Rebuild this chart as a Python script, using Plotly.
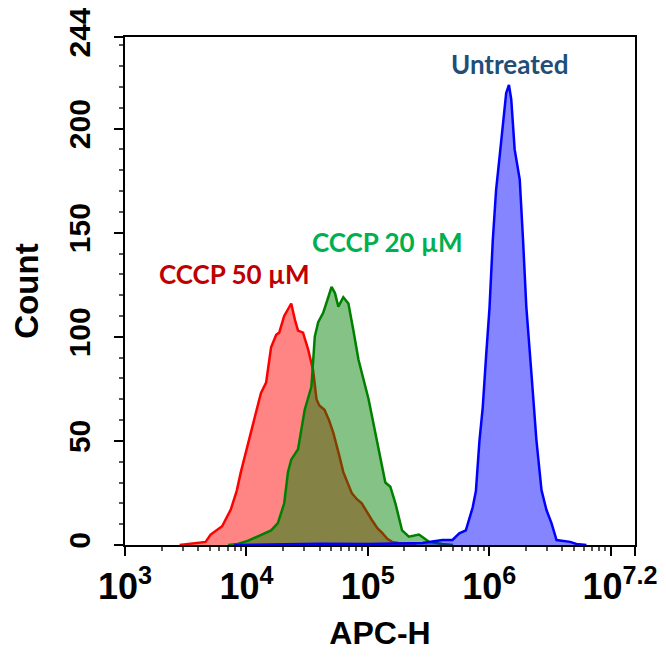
import plotly.graph_objects as go

# ---- data (APC-H given as log10 exponent, counts) ----
red_log10 = [3.45, 3.54, 3.60, 3.664, 3.705, 3.75, 3.80, 3.871, 3.92, 3.954, 4.00, 4.037, 4.08, 4.12,
             4.162, 4.203, 4.245, 4.27, 4.311, 4.34, 4.369, 4.40, 4.425, 4.466, 4.508, 4.549, 4.577,
             4.60, 4.618, 4.643, 4.68, 4.715, 4.76, 4.798, 4.867, 4.91, 4.95, 5.00, 5.033, 5.08,
             5.116, 5.16, 5.199, 5.25, 5.307, 5.40]
red_count = [0, 0.5, 1, 1.5, 5, 7, 9, 17, 26, 35, 46, 54, 64, 73,
             78, 95, 101, 102, 110, 113, 116, 108, 103, 102, 94, 84, 70,
             67, 66, 65, 60, 54, 44, 35, 25, 22, 20, 15, 12, 8,
             6, 3, 1.5, 1, 0.5, 0]

green_log10 = [3.85, 3.927, 4.01, 4.12, 4.203, 4.259, 4.311, 4.342, 4.369, 4.425, 4.48, 4.535, 4.563,
               4.591, 4.632, 4.674, 4.701, 4.729, 4.757, 4.798, 4.84, 4.881, 4.923, 5.006, 5.089,
               5.144, 5.185, 5.227, 5.282, 5.338, 5.421, 5.504, 5.614, 5.70]
green_count = [0, 0.5, 2, 5, 7, 10.5, 20, 35, 41, 46, 65, 76, 100,
               107, 111.5, 119, 124, 121, 114.5, 119, 116, 103, 89, 70, 46,
               30, 28, 20, 7, 4, 5, 1.5, 0.5, 0]

blue_log10 = [3.90, 4.2, 4.6, 5.0, 5.3, 5.448, 5.614, 5.697, 5.753, 5.807, 5.863, 5.89, 5.919, 5.946,
              5.973, 6.002, 6.029, 6.056, 6.085, 6.112, 6.139, 6.162, 6.181, 6.209, 6.251, 6.278,
              6.305, 6.347, 6.388, 6.43, 6.471, 6.513, 6.554, 6.666, 6.718, 6.80]
blue_count = [0, 0.4, 0.6, 0.5, 0.8, 1, 2.4, 2.4, 5.6, 7, 18, 26, 50, 66,
              90, 114, 146.5, 170.5, 186.5, 203, 217, 221, 214, 190, 175.5, 146.6,
              114.5, 82.5, 50.5, 26.4, 16.8, 10.4, 2.4, 1.5, 0.5, 0]

x_tick_exp = [3, 4, 5, 6, 7, 7.2]
x_tick_text = ['10<sup>3</sup>', '10<sup>4</sup>', '10<sup>5</sup>', '10<sup>6</sup>', '',
               '10<sup>7.2</sup>\u00a0\u00a0\u00a0']
y_tick_vals = [0, 50, 100, 150, 200, 244]

labels = ['CCCP 50 µM', 'CCCP 20 µM', 'Untreated']
label_pos_log10 = [3.905, 5.158, 6.17]
label_pos_count = [130.3, 145.7, 231]
label_colors = ['#C00000', '#00B050', '#1F4E79']

fig = go.Figure()

def add(xs_log, ys, line, fill):
    fig.add_trace(go.Scatter(
        x=[10 ** v for v in xs_log], y=ys, mode='lines',
        line=dict(color=line, width=2.5), fill='tozeroy', fillcolor=fill,
        showlegend=False, hoverinfo='skip'))

add(red_log10, red_count, '#FF0000', 'rgba(255,0,0,0.48)')
add(green_log10, green_count, '#008000', 'rgba(0,128,0,0.48)')
add(blue_log10, blue_count, '#0000FF', 'rgba(0,0,255,0.48)')

minor_x = [k * 10 ** d for d in range(3, 7) for k in range(2, 10)]
minor_y = [v for v in range(10, 244, 10) if v % 50 != 0]

for txt, xl, yc, col in zip(labels, label_pos_log10, label_pos_count, label_colors):
    fig.add_annotation(x=xl, y=yc, xref='x', yref='y', text=txt, showarrow=False,
                       font=dict(family='Lato', size=26, color=col, weight='bold'))

# the page body has an 8 px default margin, so the figure is 8 px smaller
fig.update_layout(
    width=658, height=651,
    margin=dict(l=117, r=31, t=29, b=114),
    plot_bgcolor='white', paper_bgcolor='white',
    xaxis=dict(
        type='log', range=[3, 7.2001], automargin=False,
        tickmode='array', tickvals=[10 ** e for e in x_tick_exp], ticktext=x_tick_text,
        ticks='outside', ticklen=9, tickwidth=2, tickcolor='black',
        ticklabeloverflow='allow',
        showline=True, linewidth=2, linecolor='black', mirror=True,
        showgrid=False, zeroline=False,
        tickfont=dict(family='Liberation Sans', size=36, color='black', weight='bold'),
        minor=dict(tickmode='array', tickvals=minor_x, ticks='outside', ticklen=4,
                   tickwidth=1.5, tickcolor='#555', showgrid=False),
        title=dict(text='APC-H', standoff=15,
                   font=dict(family='Liberation Sans', size=32, color='black', weight='bold')),
    ),
    yaxis=dict(
        range=[0, 244], automargin=False,
        tickmode='array', tickvals=y_tick_vals,
        ticks='outside', ticklen=9, tickwidth=2, tickcolor='black', tickangle=-90,
        ticklabelstandoff=12, ticklabeloverflow='allow',
        showline=True, linewidth=2, linecolor='black', mirror=True,
        showgrid=False, zeroline=False,
        tickfont=dict(family='Liberation Sans', size=30, color='black', weight='bold'),
        minor=dict(tickmode='array', tickvals=minor_y, ticks='outside', ticklen=4,
                   tickwidth=1.5, tickcolor='#555', showgrid=False),
        title=dict(text='Count', standoff=16,
                   font=dict(family='Liberation Sans', size=33, color='black', weight='bold')),
    ),
)

fig.write_html('out.html')
